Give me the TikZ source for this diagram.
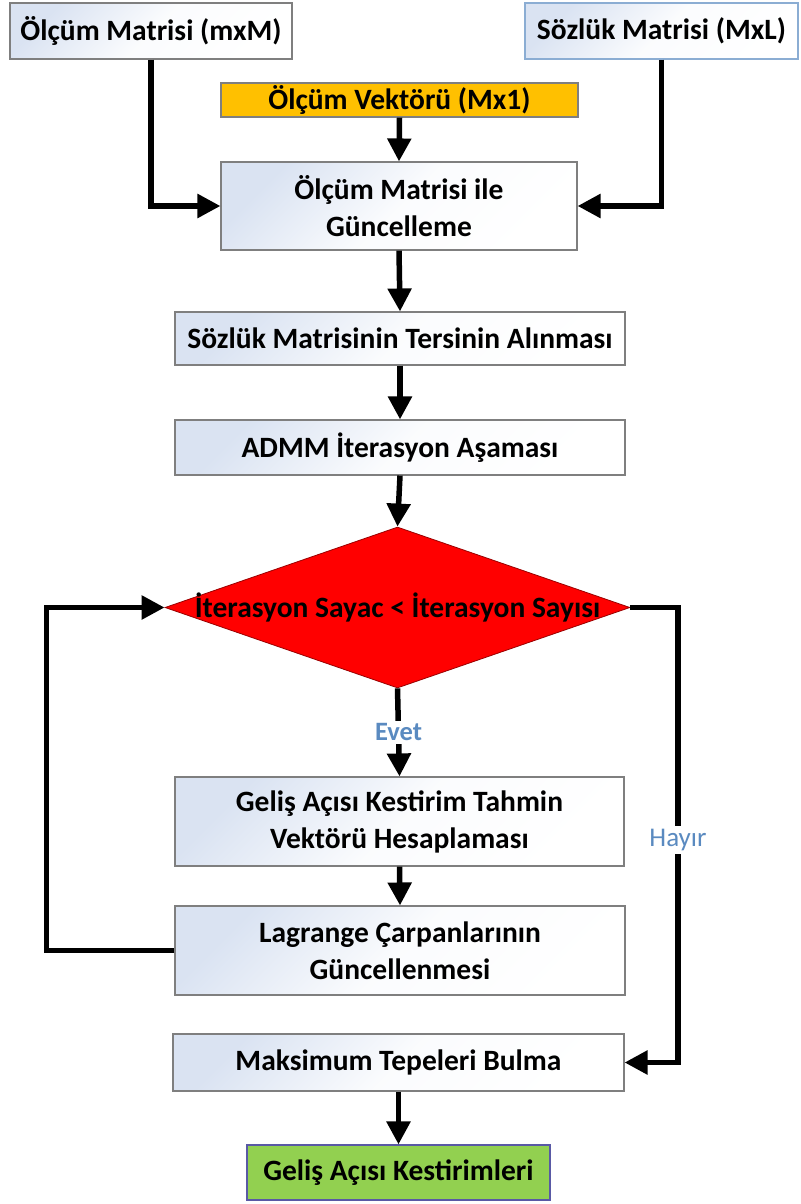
\documentclass[tikz,border=0pt]{standalone}
\usepackage{fontspec}
\setmainfont{Carlito}
\usetikzlibrary{shapes.geometric,arrows.meta}
\definecolor{boxblue}{HTML}{DAE3F2}
\definecolor{boxline}{HTML}{7F7F7F}
\definecolor{lblblue}{HTML}{5A8AC0}
\definecolor{yel}{HTML}{FFC000}
\definecolor{grn}{HTML}{92D050}
\tikzset{
  basebox/.style={draw=boxline, line width=1.1pt, inner sep=0pt, align=center,
    font=\bfseries\fontsize{29.5}{37}\selectfont},
  stepbox/.style={basebox, top color=boxblue, bottom color=white, middle color=white!88!boxblue, shading angle=45},
  arr/.style={line width=5.5pt, -{Triangle[width=23pt,length=23pt]}},
  lbl/.style={fill=white, text=lblblue, inner sep=3pt, font=\fontsize{27}{30}\selectfont},
}
\begin{document}
\begin{tikzpicture}[x=1pt,y=-1pt]
\useasboundingbox (0,0) rectangle (800,1204);
% inputs
\node[stepbox, minimum width=282pt, minimum height=56pt] (m1) at (151,31) {Ölçüm Matrisi (mxM)};
\node[stepbox, draw=lblblue!70, minimum width=273pt, minimum height=56pt] (sz) at (661.5,31) {Sözlük Matrisi (MxL)};
\node[basebox, fill=yel, minimum width=357pt, minimum height=34pt] (vec) at (399.5,100) {Ölçüm Vektörü (Mx1)};
% processing chain
\node[stepbox, minimum width=356pt, minimum height=88pt] (upd) at (399,206) {Ölçüm Matrisi ile\\Güncelleme};
\node[stepbox, minimum width=450pt, minimum height=53pt] (inv) at (400,338.5) {Sözlük Matrisinin Tersinin Alınması};
\node[stepbox, minimum width=450pt, minimum height=55pt] (admm) at (400,447.5) {ADMM İterasyon Aşaması};
\node[diamond, draw=red!60!black, line width=0.8pt, fill=red, inner sep=0pt, minimum width=465pt, minimum height=161pt] (dec) at (397.5,607.5) {};
\node[font=\bfseries\fontsize{29.5}{34}\selectfont] (dectxt) at (dec) {İterasyon Sayac < İterasyon Sayısı};
\node[stepbox, minimum width=449pt, minimum height=89pt] (est) at (399.5,821.5) {Geliş Açısı Kestirim Tahmin\\Vektörü Hesaplaması};
\node[stepbox, minimum width=450pt, minimum height=89pt] (lag) at (400,950.5) {Lagrange Çarpanlarının\\Güncellenmesi};
\node[stepbox, minimum width=451pt, minimum height=57pt] (mx) at (398.5,1062.5) {Maksimum Tepeleri Bulma};
\node[basebox, fill=grn, draw=boxline!70!blue, minimum width=303pt, minimum height=55pt] (out) at (398.5,1172.5) {Geliş Açısı Kestirimleri};
% connectors
\draw[arr] (m1.south) |- (upd.west);
\draw[arr] (sz.south) |- (upd.east);
\draw[arr] (vec.south) -- (upd.north);
\draw[arr] (upd.south) -- (inv.north);
\draw[arr] (inv.south) -- (admm.north);
\draw[arr] (admm.south) -- (dec.north);
\draw[arr] (dec.south) -- node[lbl, font=\bfseries\fontsize{26.5}{30}\selectfont] (yes) {Evet} (est.north);
\draw[arr] (est.south) -- (lag.north);
\draw[arr] (lag.west) -- ++(-128,0) |- (dec.west);
\coordinate (rt) at (678,1062.5);
\draw[arr] (dec.east) -| (rt) -- (mx.east);
\node[lbl] (no) at (678,840) {Hayır};
\draw[arr] (mx.south) -- (out.north);
\end{tikzpicture}
\end{document}
